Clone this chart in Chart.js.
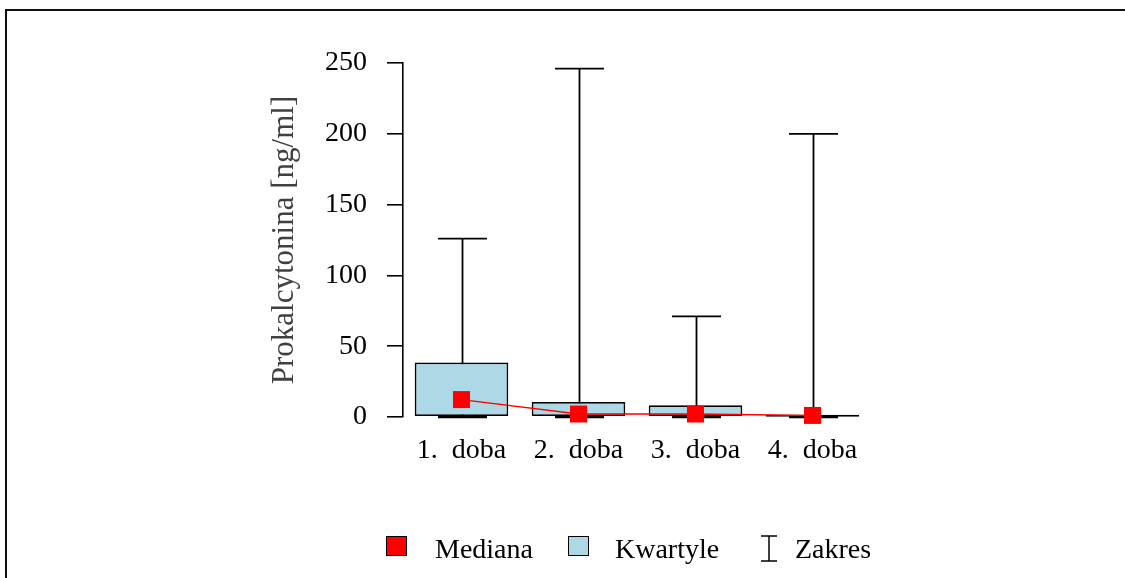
<!DOCTYPE html>
<html>
<head>
<meta charset="utf-8">
<script src="https://cdn.jsdelivr.net/npm/chart.js@4"></script>
<style>
  html, body { margin: 0; padding: 0; background: #fff; }
  #wrap { position: relative; width: 1125px; height: 578px; overflow: hidden; font-family: "Liberation Serif", "Times New Roman", serif; }
  #frame { position: absolute; left: 5px; top: 9px; right: -10px; bottom: -10px; border-top: 2px solid #111; border-left: 2px solid #111; }
  #chartBox { position: absolute; left: 0; top: 0; width: 1125px; height: 578px; }
  .lg { position: absolute; font-size: 28px; color: #000; line-height: 1; white-space: nowrap; }
  .sw { position: absolute; box-sizing: border-box; border: 1.5px solid #000; }
  .ibeam { position: absolute; }
</style>
</head>
<body>
<div id="wrap">
  <div id="frame"></div>
  <div id="chartBox"><canvas id="c"></canvas></div>
  <div class="sw" style="left:386px; top:536px; width:21px; height:20px; background:#ff0000;"></div>
  <div class="lg" style="left:435px; top:535px;">Mediana</div>
  <div class="sw" style="left:568px; top:536px; width:21px; height:20px; background:#add8e6;"></div>
  <div class="lg" style="left:615px; top:535px;">Kwartyle</div>
  <svg class="ibeam" style="left:760px; top:535px;" width="18" height="28">
    <line x1="1" y1="1" x2="17" y2="1" stroke="#000" stroke-width="1.5"/>
    <line x1="9" y1="1" x2="9" y2="26" stroke="#000" stroke-width="1.5"/>
    <line x1="1" y1="26" x2="17" y2="26" stroke="#000" stroke-width="1.5"/>
  </svg>
  <div class="lg" style="left:795px; top:535px;">Zakres</div>
</div>
<script>
// Procalcitonin by day of stay: range (min–max), quartiles and median
const categories = ['1.  doba', '2.  doba', '3.  doba', '4.  doba'];
const rangeMin = [0, 0, 0, 0];
const rangeMax = [126, 246, 71, 200];
const quartile1 = [0.7, 0.7, 0.7, 0.1];
const quartile3 = [38.5, 10.6, 8.3, 1.6];
const medians = [12.3, 2.1, 2.1, 1.1];
const yTicks = [0, 50, 100, 150, 200, 250];

const FONT = '"Liberation Serif", "Times New Roman", serif';

// Whiskers with caps, drawn behind the quartile boxes
const rangePlugin = {
  id: 'rangeWhiskers',
  beforeDatasetsDraw(chart) {
    const { ctx, scales: { x, y } } = chart;
    const cap = 24.5;
    ctx.save();
    ctx.strokeStyle = '#000';
    ctx.lineWidth = 1.8;
    categories.forEach((_, i) => {
      const px = Math.round(x.getPixelForValue(i)) + 0.5;
      const yLo = y.getPixelForValue(rangeMin[i]);
      const yHi = y.getPixelForValue(rangeMax[i]);
      ctx.beginPath();
      ctx.moveTo(px, yLo);
      ctx.lineTo(px, yHi);
      ctx.moveTo(px - cap, yHi);
      ctx.lineTo(px + cap, yHi);
      ctx.stroke();
      // lower cap sits on the zero line, drawn a little heavier
      ctx.save();
      ctx.lineWidth = 2.5;
      ctx.beginPath();
      ctx.moveTo(px - cap, yLo);
      ctx.lineTo(px + cap, yLo);
      ctx.stroke();
      ctx.restore();
    });
    ctx.restore();
  }
};

new Chart(document.getElementById('c'), {
  type: 'bar',
  data: {
    labels: categories,
    datasets: [
      {
        type: 'line',
        label: 'Mediana',
        data: medians,
        borderColor: '#ff0000',
        borderWidth: 1.4,
        backgroundColor: '#ff0000',
        pointStyle: 'rect',
        pointRadius: 12,
        pointBorderWidth: 0,
        pointBackgroundColor: '#ff0000',
        tension: 0,
        clip: false,
        order: 0
      },
      {
        label: 'Kwartyle',
        data: categories.map((_, i) => [quartile1[i], quartile3[i]]),
        backgroundColor: '#add8e6',
        borderColor: '#000',
        borderWidth: 1.8,
        borderSkipped: false,
        categoryPercentage: 0.8,
        barPercentage: 1.0,
        clip: false,
        order: 1
      }
    ]
  },
  options: {
    responsive: true,
    maintainAspectRatio: false,
    animation: false,
    devicePixelRatio: 1,
    layout: { padding: { left: 262, right: 254, top: 63, bottom: 111 } },
    plugins: {
      legend: { display: false },
      tooltip: { enabled: false }
    },
    scales: {
      x: {
        offset: true,
        grid: { display: false },
        border: { display: false },
        ticks: {
          color: '#000',
          padding: 9,
          font: { family: FONT, size: 28 },
          maxRotation: 0,
          autoSkip: false
        },
        afterFit(s) { s.height = 50; }
      },
      y: {
        min: 0,
        max: 250,
        afterBuildTicks(s) { s.ticks = yTicks.map(v => ({ value: v })); },
        grid: {
          display: true,
          drawOnChartArea: false,
          drawTicks: true,
          tickLength: 16,
          color: '#000',
          lineWidth: 1.6
        },
        border: { display: true, color: '#000', width: 1.6 },
        ticks: {
          color: '#000',
          padding: 20,
          font: { family: FONT, size: 28 }
        },
        title: {
          display: true,
          text: 'Prokalcytonina [ng/ml]',
          color: '#404040',
          font: { family: FONT, size: 31 },
          padding: { top: 4, bottom: 4 }
        },
        afterFit(s) { s.width = 141; }
      }
    }
  },
  plugins: [rangePlugin]
});
</script>
</body>
</html>
